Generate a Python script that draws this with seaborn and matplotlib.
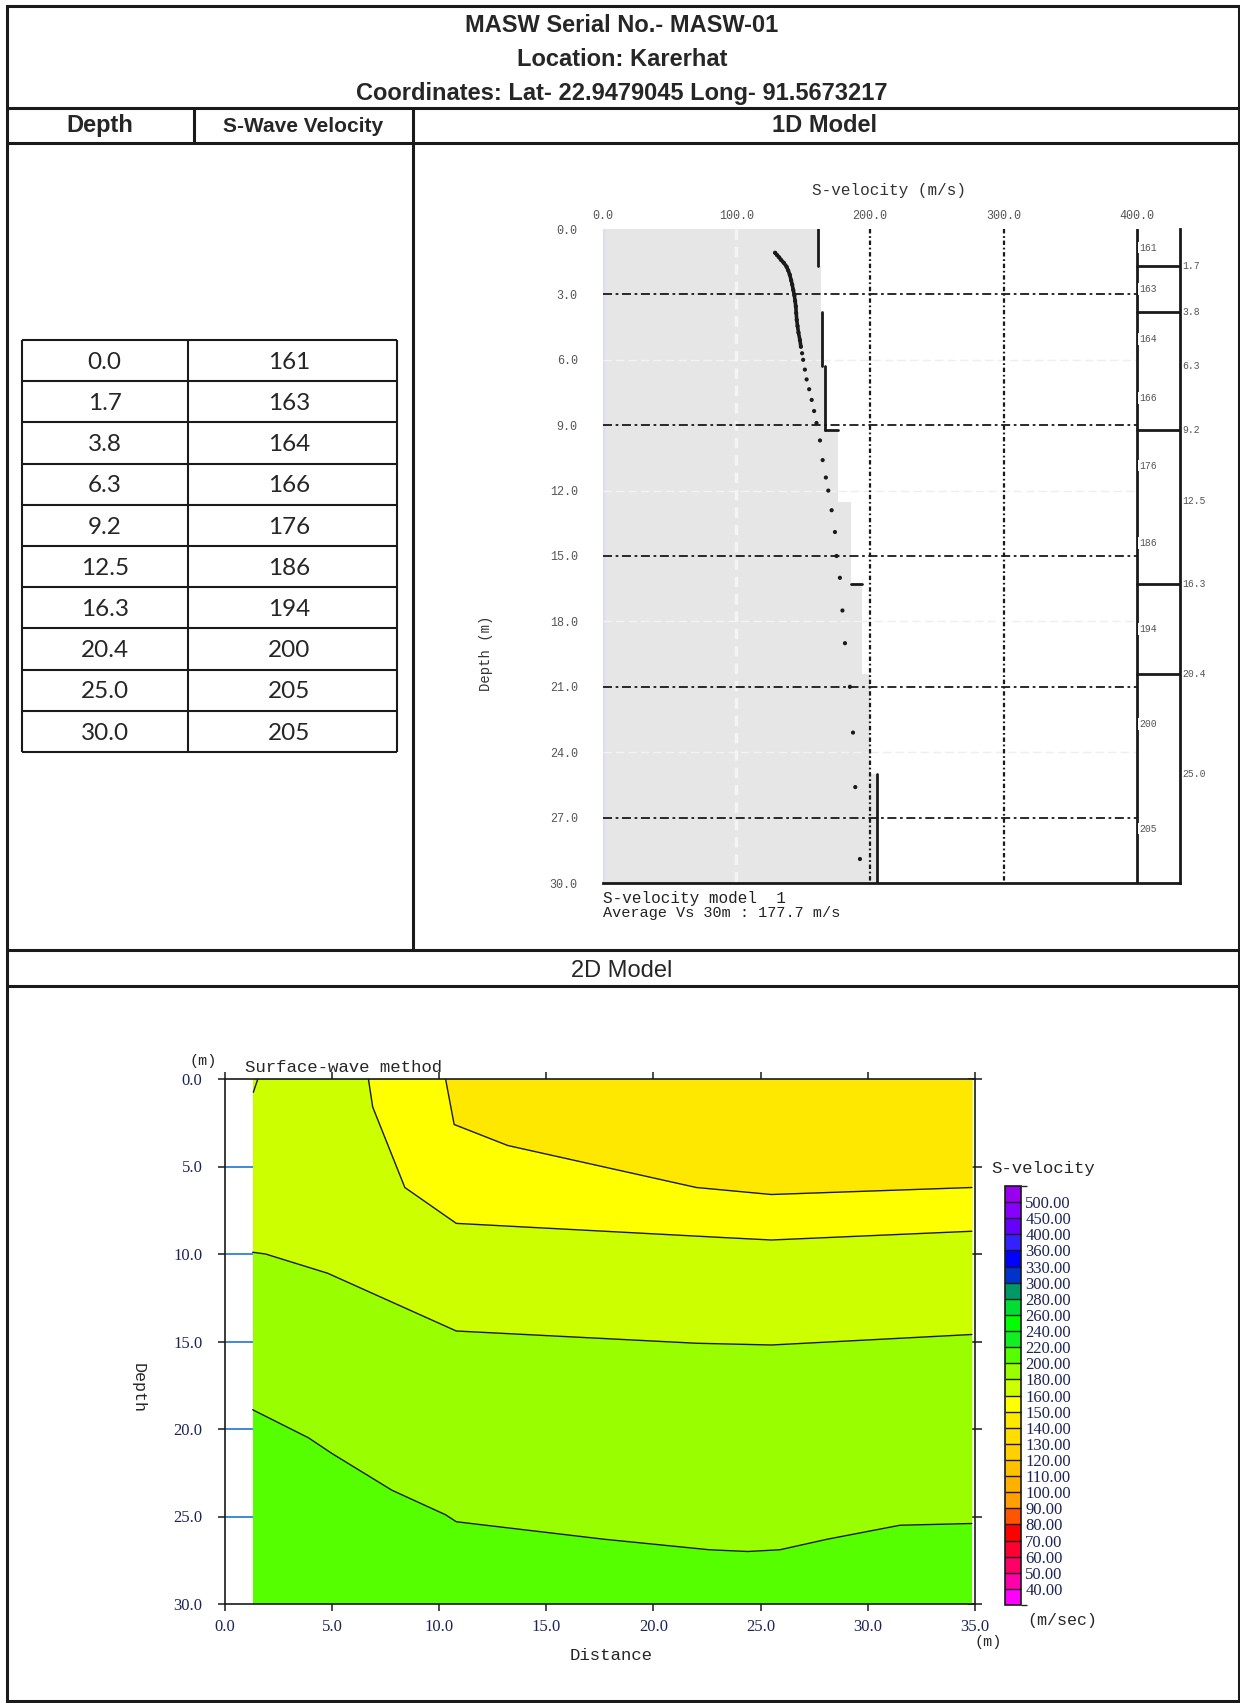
import numpy as np
import pandas as pd
import matplotlib
matplotlib.use("Agg")
import matplotlib.pyplot as plt
import matplotlib as mpl
from matplotlib.colors import ListedColormap, BoundaryNorm
import seaborn as sns

# ------------------------------------------------------------------ data
title_lines = ["MASW Serial No.- MASW-01",
               "Location: Karerhat",
               "Coordinates: Lat- 22.9479045 Long- 91.5673217"]
col_headers = ["Depth", "S-Wave Velocity", "1D Model"]
section_2d = "2D Model"

layer_depth = [0.0, 1.7, 3.8, 6.3, 9.2, 12.5, 16.3, 20.4, 25.0, 30.0]
layer_vs = [161, 163, 164, 166, 176, 186, 194, 200, 205, 205]

# observed dispersion-derived points (velocity m/s, depth m)
disp_vs = [129, 130.5, 132, 133.5, 135.5, 137.6, 138.8, 140, 141, 141.8,
           142.6, 143.4, 144, 144.5, 144.8, 145.2, 145.8, 146.5, 147.6, 148.3,
           149.2, 150, 151.3, 152.6, 154.5, 156.4, 158.2, 160, 162.6, 164.6,
           167, 168.8, 171.3, 173.8, 175, 177.5, 179.4, 181.3, 185, 187.3,
           189, 192.5]
disp_depth = [1.09, 1.2, 1.3, 1.42, 1.55, 1.73, 1.9, 2.1, 2.35, 2.55,
              2.8, 3.04, 3.3, 3.55, 3.85, 4.17, 4.45, 4.75, 5.1, 5.4,
              5.7, 6.0, 6.45, 6.9, 7.35, 7.84, 8.35, 8.9, 9.7, 10.6,
              11.4, 12.0, 12.9, 13.9, 15.0, 16.0, 17.5, 19.0, 21.0, 23.1,
              25.6, 28.9]
dense_trace_until = 5.4   # depth range where the points merge into a thick trace

vel_ticks = [0, 100, 200, 300, 400]
depth_ticks_1d = [0, 3, 6, 9, 12, 15, 18, 21, 24, 27, 30]
profile_visible = [True, False, True, True, False, False, False, False, True]
step_marks = [9.2, 16.3]
boundary_marks = [1.7, 3.8, 9.2, 16.3, 20.4]
vs30_value = "177.7"

cb_levels = [40, 50, 60, 70, 80, 90, 100, 110, 120, 130, 140, 150, 160,
             180, 200, 220, 240, 260, 280, 300, 330, 360, 400, 450, 500]
cb_colors = ['#FF00FF', '#FF00AA', '#FF0066', '#FF0033', '#FF0000', '#FF5500',
             '#FFA000', '#FFB000', '#FFC000', '#FFD000', '#FFDD00', '#FFE800',
             '#FFFF00', '#CCFF00', '#99FF00', '#55FF00', '#11EE22', '#00FF00',
             '#00DD33', '#009966', '#0033CC', '#0000FF', '#3322FF', '#6600FF',
             '#8800FF', '#9900EE']

dist_ticks = [0, 5, 10, 15, 20, 25, 30, 35]
depth_ticks_2d = [0, 5, 10, 15, 20, 25, 30]
data_x = [1.3, 34.85]

# contour boundaries of the 2D section (distance m, depth m)
c150_x = [10.3, 10.7, 13.2, 22.0, 25.5, 34.85]
c150_z = [0.0, 2.6, 3.8, 6.2, 6.6, 6.2]
c160_x = [6.7, 6.9, 8.4, 10.8, 23.1, 25.5, 34.85]
c160_z = [0.0, 1.6, 6.2, 8.25, 9.05, 9.2, 8.7]
c180_x = [1.3, 1.9, 4.8, 10.8, 22.0, 25.5, 34.85]
c180_z = [9.9, 10.0, 11.1, 14.4, 15.1, 15.2, 14.6]
c200_x = [1.3, 3.9, 5.0, 7.8, 10.3, 10.8, 17.7, 22.6, 24.4, 25.9, 28.1, 31.5, 34.85]
c200_z = [18.9, 20.5, 21.4, 23.5, 24.9, 25.3, 26.3, 26.9, 27.0, 26.9, 26.3, 25.5, 25.4]
c160b_x = [1.54, 1.33]
c160b_z = [0.0, 0.76]
region_vs = [210, 190, 170, 155, 145]

# ------------------------------------------------------------------ setup
sns.set_theme(style="white")
plt.rcParams['font.family'] = ['Liberation Sans', 'DejaVu Sans']

W, H = 1240, 1703
fig = plt.figure(figsize=(W / 100, H / 100), dpi=100)
bg = fig.add_axes([0, 0, 1, 1])
bg.set_xlim(0, W)
bg.set_ylim(H, 0)
bg.axis('off')


def pax(l, t, r, b):
    return fig.add_axes([l / W, 1 - b / H, (r - l) / W, (b - t) / H])


head_font = ['Liberation Sans Narrow', 'Liberation Sans']
mono = ['Liberation Mono', 'DejaVu Sans Mono']
serif = ['Liberation Serif', 'DejaVu Serif']

# ------------------------------------------------------------------ frame
LWB = 2.2
bg.plot([6.7, 1238.5, 1238.5, 6.7, 6.7], [6, 6, 1701, 1701, 6], color='k',
        lw=LWB, solid_joinstyle='miter')
bg.hlines([108, 142.7, 950, 985.7], 6.7, 1238.5, color='k', lw=LWB)
bg.vlines(194, 108, 142.7, color='k', lw=LWB)
bg.vlines(413.3, 108, 950, color='k', lw=LWB)

for txt, yb in zip(title_lines, [32, 66, 100]):
    bg.text(622, yb, txt, ha='center', va='baseline', fontsize=17,
            fontweight='bold', family=head_font)
bg.text(100, 132, col_headers[0], ha='center', va='baseline', fontsize=17,
        fontweight='bold', family=head_font)
bg.text(303, 132, col_headers[1], ha='center', va='baseline', fontsize=15,
        fontweight='bold', family=head_font)
bg.text(825, 132, col_headers[2], ha='center', va='baseline', fontsize=17,
        fontweight='bold', family=head_font)
bg.text(622, 977, section_2d, ha='center', va='baseline', fontsize=17,
        family=head_font)

# ------------------------------------------------------------------ table
tx0, tx1, tx2 = 21.7, 187.7, 397.3
ty0, rh = 340, 41.2
n = len(layer_depth)
bg.hlines([ty0 + rh * i for i in range(n + 1)], tx0, tx2, color='k', lw=1.5)
bg.vlines([tx0, tx1, tx2], ty0, ty0 + rh * n, color='k', lw=1.5)
for i, (d, v) in enumerate(zip(layer_depth, layer_vs)):
    yb = ty0 + rh * i + 28.7
    bg.text((tx0 + tx1) / 2, yb, f"{d:.1f}", ha='center', va='baseline',
            fontsize=17.5, family=['Lato', 'DejaVu Sans'])
    bg.text(289, yb, f"{v}", ha='center', va='baseline',
            fontsize=17.5, family=['Lato', 'DejaVu Sans'])

# ------------------------------------------------------------------ 1D model
ax1 = pax(602.7, 229, 1180, 883)
VMAX = 432
ax1.set_xlim(0, VMAX)
ax1.set_ylim(30, 0)
ax1.set_facecolor('none')
for s in ['left', 'top']:
    ax1.spines[s].set_visible(False)
ax1.spines['bottom'].set_color('k')
ax1.spines['bottom'].set_linewidth(2)
ax1.spines['right'].set_color('k')
ax1.spines['right'].set_linewidth(2)

# gray filled model
step_d = []
step_v = []
for i in range(len(layer_depth) - 1):
    step_d += [layer_depth[i], layer_depth[i + 1]]
    step_v += [layer_vs[i], layer_vs[i]]
ax1.fill_betweenx(step_d, 0, step_v, color='#e6e6e6', lw=0, zorder=1)
ax1.axvline(0, color='#dcdcf2', lw=2.5, zorder=1.5)

# faint grid
for d in [6, 12, 18, 24]:
    vi = np.interp(d, step_d, step_v)
    ax1.plot([0, vi], [d, d], color='#f3f3f3', lw=1.0, ls=(0, (6, 3)), zorder=2)
    ax1.plot([vi, 400], [d, d], color='#eeeeee', lw=1.0, ls=(0, (6, 3)), zorder=2)
ax1.plot([100, 100], [0, 30], color='#f4f4f8', lw=2.5, ls=(0, (3, 2)), zorder=2)
# dark grid
for d in [3, 9, 15, 21, 27]:
    ax1.plot([0, 400], [d, d], color='k', lw=1.3, ls=(0, (5, 2, 1.5, 2)), zorder=3)
for v in [200, 300]:
    ax1.plot([v, v], [0, 30], color='k', lw=1.6, ls=(0, (2, 1.2, 0.8, 1.2)), zorder=3)
ax1.plot([400, 400], [0, 30], color='k', lw=2, zorder=3)
for d in boundary_marks:
    ax1.plot([400, VMAX], [d, d], color='k', lw=2, zorder=3)

# velocity profile segments
for i, vis in enumerate(profile_visible):
    if vis:
        ax1.plot([layer_vs[i], layer_vs[i]], [layer_depth[i], layer_depth[i + 1]],
                 color='k', lw=2, zorder=4)
for d in step_marks:
    k = layer_depth.index(d)
    ax1.plot([layer_vs[k - 1], layer_vs[k]], [d, d], color='k', lw=2, zorder=4)

disp_df = pd.DataFrame({"vs": disp_vs, "depth": disp_depth})
dense_df = disp_df[disp_df["depth"] <= dense_trace_until]
sns.lineplot(data=dense_df, x="vs", y="depth", ax=ax1, sort=False, estimator=None,
             color='k', lw=2.6, zorder=5, legend=False)
sns.scatterplot(data=disp_df, x="vs", y="depth", ax=ax1, color='k', s=9,
                edgecolor='none', zorder=5, legend=False)

# column labels
for i in range(len(layer_depth) - 1):
    mid = (layer_depth[i] + layer_depth[i + 1]) / 2
    ax1.text(401.5, mid, f"{layer_vs[i]}", ha='left', va='center', fontsize=7,
             color='#555', family=mono, zorder=6,
             bbox=dict(facecolor='white', edgecolor='none', pad=0.6))
for d in layer_depth[1:-1]:
    ax1.text(VMAX + 2, d, f"{d:.1f}", ha='left', va='center', fontsize=7,
             color='#555', family=mono, clip_on=False)

ax1.xaxis.tick_top()
ax1.set_xticks(vel_ticks)
ax1.set_xticklabels([f"{v:.1f}" for v in vel_ticks], fontsize=8.5, color='#555',
                    family=mono)
ax1.set_yticks(depth_ticks_1d)
ax1.set_yticklabels([f"{d:.1f}" for d in depth_ticks_1d], fontsize=8.5, color='#555',
                    family=mono)
ax1.tick_params(axis='both', length=0)
ax1.tick_params(axis='x', pad=5)
ax1.tick_params(axis='y', pad=18)
ax1.set_xlabel("")
ax1.set_ylabel("")
ax1.grid(False)

bg.text(889, 190, "S-velocity (m/s)", ha='center', va='center', fontsize=11.5,
        color='#333', family=mono)
bg.text(486, 653, "Depth (m)", ha='center', va='center', rotation=90,
        fontsize=10, color='#333', family=mono)
bg.text(603, 898, "S-velocity model  1", ha='left', va='center', fontsize=11.5,
        color='#222', family=mono)
bg.text(603, 913, f"Average Vs 30m : {vs30_value} m/s", ha='left', va='center',
        fontsize=11, color='#222', family=mono)

# ------------------------------------------------------------------ 2D model
cmap = ListedColormap(cb_colors)
bounds = [30] + cb_levels + [550]
norm = BoundaryNorm(bounds, cmap.N)

ax2 = pax(224.8, 1079, 975, 1604)
ax2.set_xlim(0, 35)
ax2.set_ylim(30, 0)
ax2.set_facecolor('white')

ax2.fill_between(data_x, 0, 30, color=cmap(norm(region_vs[0])), lw=0)
for bx, bz, v in zip([c200_x, c180_x, c160_x, c150_x],
                     [c200_z, c180_z, c160_z, c150_z], region_vs[1:]):
    ax2.fill_between(bx, 0, bz, color=cmap(norm(v)), lw=0)
for bx, bz in zip([c200_x, c180_x, c160_x, c150_x, c160b_x],
                  [c200_z, c180_z, c160_z, c150_z, c160b_z]):
    line_df = pd.DataFrame({"x": bx, "z": bz})
    sns.lineplot(data=line_df, x="x", y="z", ax=ax2, sort=False, estimator=None,
                 color='k', lw=1.0, legend=False)
ax2.hlines(depth_ticks_2d[1:-1], 0, data_x[0], color='#2f7fd8', lw=1.3)

for s in ax2.spines.values():
    s.set_color('k')
    s.set_linewidth(1.2)
ax2.set_xticks(dist_ticks)
ax2.set_xticklabels([f"{v:.1f}" for v in dist_ticks], fontsize=12,
                    color='#1c2456', family=serif)
ax2.set_yticks(depth_ticks_2d)
ax2.set_yticklabels([f"{v:.1f}" for v in depth_ticks_2d], fontsize=12,
                    color='#1c2456', family=serif)
ax2.tick_params(axis='x', bottom=True, top=True, direction='out', length=5,
                width=1.1, color='k', pad=6)
ax2.tick_params(axis='y', left=True, right=True, direction='out', length=5,
                width=1.1, color='k', pad=11)
for t in ax2.yaxis.get_major_ticks():
    t.tick2line.set_marker('_')
    t.tick2line.set_markersize(10)
ax2.set_xlabel("")
ax2.set_ylabel("")
ax2.grid(False)

bg.text(203, 1061, "(m)", ha='center', va='center', fontsize=11, family=mono)
bg.text(245, 1072, "Surface-wave method", ha='left', va='baseline', fontsize=12.5,
        family=mono)
bg.text(988, 1642, "(m)", ha='center', va='center', fontsize=11, family=mono)
bg.text(611, 1656, "Distance", ha='center', va='center', fontsize=12.5, family=mono)
bg.text(138, 1388, "Depth", ha='center', va='center', rotation=-90, fontsize=12,
        family=mono)
bg.text(991, 1169, "S-velocity", ha='left', va='center', fontsize=12.5, family=mono)
bg.text(1062, 1620, "(m/sec)", ha='center', va='center', fontsize=12, family=mono)

# colour scale
cax = pax(1005, 1186, 1021, 1605)
cb = mpl.colorbar.Colorbar(cax, cmap=cmap, norm=norm, boundaries=bounds,
                           spacing='uniform', ticks=cb_levels, drawedges=True,
                           orientation='vertical')
cb.outline.set_edgecolor('k')
cb.outline.set_linewidth(1.2)
cb.dividers.set_color('k')
cb.dividers.set_linewidth(1.0)
cax.set_yticklabels([f"{v:.2f}" for v in cb_levels], fontsize=12,
                    color='#1c2456', family=serif)
cax.tick_params(length=0, pad=3)

fig.savefig("out.png", dpi=100)
